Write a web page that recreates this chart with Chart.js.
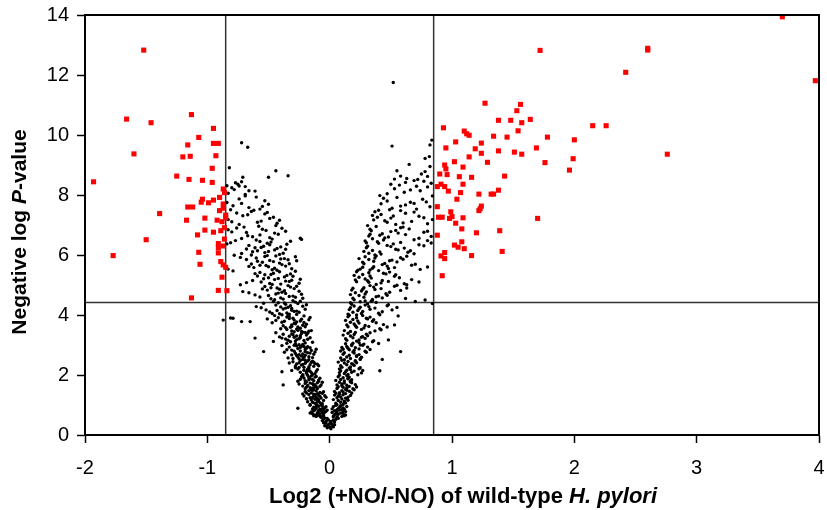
<!DOCTYPE html>
<html><head><meta charset="utf-8">
<script src="https://cdn.jsdelivr.net/npm/chart.js@4.4.0/dist/chart.umd.min.js"></script>
<style>html,body{margin:0;padding:0;background:#fff;}</style>
</head><body>
<canvas id="c" width="827" height="510"></canvas>
<script>
const xTicks = [-2, -1, 0, 1, 2, 3, 4];
const yTicks = [0, 2, 4, 6, 8, 10, 12, 14];
const cutX = [-0.85, 0.85];
const cutY = 4.42;
const xTitleParts = [["Log2 (+NO/-NO) of wild-type ", false], ["H. pylori", true]];
const yTitleParts = [["Negative log ", false], ["P", true], ["-value", false]];

// significant genes (red)
const sigLeft = [[-1.66,10.53],[-1.46,10.41],[-1.13,10.68],[-0.95,10.22],[-1.07,9.92],[-1.16,9.67],[-0.95,9.72],[-0.91,9.72],[-1.6,9.37],[-1.2,9.27],[-1.14,9.29],[-0.93,9.31],[-0.96,8.89],[-1.25,8.63],[-1.93,8.44],[-1.15,8.52],[-1.04,8.49],[-0.96,8.42],[-0.87,8.2],[-0.86,8.08],[-0.9,7.92],[-0.95,7.83],[-1.04,7.86],[-1.05,7.76],[-0.99,7.74],[-0.87,7.7],[-1.16,7.6],[-1.12,7.6],[-0.87,7.56],[-0.9,7.48],[-1.39,7.38],[-0.85,7.33],[-0.85,7.24],[-1.02,7.23],[-1.17,7.16],[-0.92,7.16],[-0.88,7.11],[-0.86,6.91],[-1.02,6.83],[-0.89,6.81],[-0.95,6.76],[-1.08,6.67],[-0.86,6.53],[-1.5,6.51],[-0.91,6.38],[-0.87,6.3],[-0.91,6.24],[-1.77,5.98],[-1.07,6.09],[-0.91,6.07],[-1.06,5.69],[-0.89,5.78],[-0.87,5.67],[-0.85,5.59],[-0.88,5.26],[-0.91,4.82],[-0.84,4.81],[-1.13,4.57],[-1.52,12.83]];
const sigRight = [[3.70,13.94],[1.72,12.82],[2.60,12.89],[2.60,12.83],[2.42,12.09],[3.97,11.81],[1.27,11.06],[1.56,11.02],[1.53,10.81],[1.64,10.52],[1.38,10.49],[1.48,10.49],[1.57,10.41],[2.15,10.31],[2.26,10.31],[0.93,10.24],[1.54,10.14],[1.10,10.13],[1.12,10.04],[1.14,9.99],[1.34,9.96],[1.45,9.93],[1.78,9.93],[2.00,9.84],[1.03,9.77],[1.24,9.73],[0.95,9.57],[1.19,9.54],[1.69,9.57],[1.38,9.47],[1.51,9.43],[1.24,9.39],[1.57,9.36],[2.76,9.36],[1.14,9.27],[1.99,9.21],[1.02,9.11],[1.29,9.09],[1.76,9.08],[0.94,9.0],[1.09,8.93],[0.95,8.87],[1.96,8.83],[0.90,8.7],[0.96,8.68],[1.43,8.63],[1.06,8.61],[1.16,8.59],[1.09,8.36],[0.91,8.36],[0.88,8.28],[0.94,8.28],[0.97,8.13],[1.38,8.16],[1.07,8.08],[1.22,8.03],[1.32,8.03],[1.34,8.03],[1.04,7.86],[1.24,7.63],[1.23,7.54],[1.22,7.48],[0.88,7.61],[0.99,7.44],[0.89,7.26],[0.92,7.26],[0.98,7.22],[1.0,7.28],[1.09,7.24],[1.70,7.22],[1.03,7.06],[1.08,6.87],[1.39,6.81],[1.20,6.74],[0.88,6.66],[1.08,6.44],[1.02,6.33],[1.05,6.26],[1.10,6.21],[1.41,6.12],[0.94,6.08],[0.91,5.97],[1.16,5.98],[0.94,5.88],[0.92,5.31]];

// non-significant genes (black): tip of the V
const nsTip = [[0.01,0.21],[-0.02,0.24],[0.03,0.27],[-0.04,0.31],[0.0,0.26],[0.02,0.36],[-0.01,0.33],[-0.05,0.41],[0.04,0.43],[-0.03,0.39],[0.05,0.52],[-0.06,0.48],[0.01,0.45],[-0.02,0.55],[0.06,0.58],[-0.04,0.57],[0.03,0.49],[0.0,0.38],[-0.07,0.59],[0.02,0.3],[-0.01,0.5],[0.04,0.34],[-0.03,0.46],[0.07,0.56],[-0.05,0.53],[0.01,0.41],[-0.02,0.29],[0.03,0.6]];

// left arm of the V
const nsLeft = [
[-0.06,0.88],[-0.11,0.62],[-0.03,0.79],[-0.14,0.71],[-0.09,0.96],[-0.05,0.65],[-0.12,0.84],[-0.08,0.69],[-0.16,0.99],[-0.04,0.91],[-0.1,0.74],[-0.13,0.93],[-0.07,0.61],[-0.02,0.83],[-0.15,0.77],[-0.09,0.72],[-0.06,0.97],[-0.11,0.89],[-0.04,0.76],[-0.13,0.64],[-0.08,0.86],[-0.1,0.98],[-0.05,0.7],[-0.14,0.87],[-0.07,0.8],[-0.12,0.67],[-0.03,0.94],[-0.09,0.82],[-0.16,0.73],[-0.06,0.75],[-0.11,0.95],[-0.08,0.63],[-0.13,0.81],[-0.05,0.85],[-0.1,0.66],
[-0.11,1.27],[-0.06,1.04],[-0.17,1.35],[-0.09,1.12],[-0.14,1.49],[-0.04,1.31],[-0.19,1.21],[-0.12,1.06],[-0.08,1.42],[-0.15,1.17],[-0.1,1.38],[-0.07,1.23],[-0.2,1.45],[-0.13,1.29],[-0.05,1.15],[-0.16,1.02],[-0.11,1.47],[-0.09,1.33],[-0.18,1.11],[-0.14,1.25],[-0.06,1.39],[-0.12,1.19],[-0.21,1.3],[-0.08,1.08],[-0.15,1.41],[-0.1,1.14],[-0.03,1.26],[-0.17,1.48],[-0.13,1.36],[-0.07,1.01],[-0.19,1.4],[-0.1,1.22],[-0.14,1.09],[-0.05,1.44],[-0.12,1.34],[-0.16,1.24],[-0.09,1.18],[-0.22,1.37],[-0.11,1.05],[-0.08,1.29],
[-0.14,1.71],[-0.2,1.54],[-0.09,1.83],[-0.17,1.92],[-0.12,1.6],[-0.24,1.86],[-0.07,1.67],[-0.15,1.52],[-0.19,1.77],[-0.11,1.95],[-0.22,1.63],[-0.13,1.81],[-0.16,1.58],[-0.08,1.89],[-0.18,1.99],[-0.1,1.74],[-0.26,1.79],[-0.14,1.56],[-0.21,1.9],[-0.12,1.68],[-0.17,1.84],[-0.06,1.76],[-0.2,1.72],[-0.15,1.97],[-0.11,1.61],[-0.23,1.94],[-0.13,1.51],[-0.18,1.65],[-0.09,1.79],[-0.16,1.88],[-0.25,1.7],[-0.12,1.93],[-0.19,1.59],[-0.14,1.85],[-0.1,1.55],[-0.22,1.98],[-0.16,1.73],[-0.08,1.62],[-0.2,1.81],[-0.13,1.66],
[-0.19,2.06],[-0.13,2.29],[-0.25,2.41],[-0.16,2.13],[-0.22,2.35],[-0.1,2.18],[-0.28,2.24],[-0.18,2.47],[-0.14,2.02],[-0.21,2.16],[-0.3,2.44],[-0.12,2.38],[-0.24,2.09],[-0.17,2.27],[-0.2,2.49],[-0.09,2.31],[-0.26,2.2],[-0.15,2.42],[-0.19,2.11],[-0.23,2.33],[-0.12,2.04],[-0.27,2.37],[-0.17,2.22],[-0.14,2.46],[-0.21,2.26],[-0.31,2.15],[-0.16,2.34],[-0.11,2.12],[-0.24,2.48],[-0.18,2.19],[-0.22,2.01],[-0.13,2.43],[-0.28,2.3],[-0.2,2.39],[-0.15,2.08],[-0.25,2.25],[-0.19,2.45],[-0.1,2.36],[-0.33,2.4],[-0.17,2.14],
[-0.23,2.63],[-0.16,2.91],[-0.3,2.55],[-0.2,2.78],[-0.27,2.97],[-0.13,2.69],[-0.35,2.84],[-0.22,2.52],[-0.18,2.74],[-0.26,2.88],[-0.14,2.58],[-0.31,2.67],[-0.21,2.95],[-0.24,2.8],[-0.17,2.61],[-0.28,2.72],[-0.11,2.86],[-0.33,2.93],[-0.2,2.66],[-0.25,2.54],[-0.15,2.82],[-0.29,2.99],[-0.22,2.7],[-0.19,2.89],[-0.37,2.76],[-0.26,2.6],[-0.12,2.77],[-0.23,2.96],[-0.31,2.83],[-0.17,2.51],[-0.27,2.65],[-0.2,2.85],[-0.34,2.57],[-0.24,2.92],[-0.16,2.73],[-0.29,2.79],[-0.21,2.59],[-0.39,2.98],[-0.25,2.68],[-0.18,2.94],
[-0.27,3.18],[-0.2,3.42],[-0.35,3.06],[-0.24,3.31],[-0.16,3.24],[-0.31,3.47],[-0.22,3.02],[-0.38,3.36],[-0.28,3.13],[-0.18,3.39],[-0.25,3.21],[-0.33,3.29],[-0.14,3.09],[-0.29,3.44],[-0.21,3.15],[-0.41,3.27],[-0.26,3.49],[-0.19,3.33],[-0.32,3.11],[-0.23,3.38],[-0.36,3.2],[-0.17,3.46],[-0.28,3.04],[-0.24,3.25],[-0.44,3.41],[-0.3,3.34],[-0.2,3.07],[-0.27,3.3],[-0.15,3.48],[-0.34,3.16],[-0.22,3.43],[-0.39,3.23],[-0.25,3.01],[-0.31,3.37],[-0.18,3.19],[-0.29,3.26],[-0.23,3.45],[-0.46,3.12],
[-0.31,3.62],[-0.23,3.86],[-0.4,3.54],[-0.27,3.77],[-0.19,3.69],[-0.35,3.93],[-0.26,3.51],[-0.44,3.82],[-0.32,3.59],[-0.21,3.97],[-0.29,3.72],[-0.38,3.64],[-0.17,3.84],[-0.34,3.99],[-0.24,3.56],[-0.47,3.74],[-0.3,3.89],[-0.22,3.66],[-0.37,3.79],[-0.27,3.53],[-0.42,3.91],[-0.2,3.61],[-0.33,3.95],[-0.28,3.71],[-0.51,3.87],[-0.36,3.58],[-0.24,3.8],[-0.31,3.67],[-0.16,3.92],[-0.39,3.76],[-0.26,3.6],[-0.45,3.98],[-0.29,3.83],[-0.35,3.52],[-0.21,3.75],[-0.33,3.88],
[-0.36,4.36],[-0.27,4.13],[-0.46,4.45],[-0.31,4.22],[-0.22,4.29],[-0.41,4.04],[-0.3,4.48],[-0.52,4.17],[-0.37,4.4],[-0.25,4.09],[-0.34,4.26],[-0.44,4.33],[-0.2,4.19],[-0.39,4.01],[-0.28,4.43],[-0.56,4.24],[-0.35,4.07],[-0.26,4.38],[-0.43,4.15],[-0.32,4.31],[-0.49,4.1],[-0.24,4.46],[-0.38,4.2],[-0.33,4.03],[-0.6,4.28],[-0.42,4.41],[-0.29,4.12],[-0.36,4.23],[-0.19,4.34],[-0.47,4.05],[-0.31,4.16],[-0.54,4.39],[-0.4,4.27],[-0.27,4.02],
[-0.87,3.83],[-0.79,3.89],[-0.81,3.9],[-0.72,3.78],[-0.65,3.78],[-0.61,3.23],[-0.54,2.78],[-0.39,2.11],[-0.38,1.67],[-0.26,0.89],
[-0.41,4.86],[-0.3,4.63],[-0.53,4.95],[-0.36,4.72],[-0.25,4.79],[-0.48,4.54],[-0.34,4.98],[-0.61,4.67],[-0.43,4.9],[-0.28,4.59],[-0.39,4.76],[-0.51,4.83],[-0.23,4.69],[-0.45,4.51],[-0.32,4.93],[-0.66,4.74],[-0.4,4.57],[-0.29,4.88],[-0.5,4.65],[-0.37,4.81],[-0.57,4.6],[-0.27,4.96],[-0.44,4.7],[-0.38,4.53],[-0.71,4.78],[-0.48,4.91],[-0.33,4.62],[-0.42,4.73],[-0.22,4.56],[-0.55,4.87],
[-0.46,5.39],[-0.33,5.12],[-0.59,5.3],[-0.4,5.03],[-0.28,5.46],[-0.54,5.21],[-0.37,5.27],[-0.68,5.08],[-0.48,5.35],[-0.31,5.16],[-0.43,5.49],[-0.57,5.42],[-0.25,5.06],[-0.5,5.24],[-0.35,5.32],[-0.73,5.01],[-0.45,5.18],[-0.32,5.37],[-0.56,5.1],[-0.41,5.44],[-0.63,5.15],[-0.3,5.29],[-0.49,5.05],[-0.42,5.22],[-0.79,5.47],[-0.53,5.34],[-0.36,5.13],[-0.47,5.02],[-0.24,5.19],[-0.61,5.38],
[-0.5,5.61],[-0.37,5.88],[-0.64,5.7],[-0.44,5.97],[-0.31,5.54],[-0.59,5.79],[-0.41,5.73],[-0.73,5.92],[-0.52,5.65],[-0.34,5.84],[-0.47,5.51],[-0.62,5.58],[-0.28,5.94],[-0.55,5.76],[-0.39,5.68],[-0.78,5.99],[-0.49,5.82],[-0.36,5.63],[-0.6,5.9],[-0.45,5.56],[-0.68,5.85],[-0.33,5.71],[-0.53,5.95],[-0.46,5.78],[-0.83,5.53],[-0.57,5.66],[-0.4,5.87],[-0.51,5.98],[-0.27,5.81],[-0.66,5.62],
[-0.54,6.29],[-0.41,6.02],[-0.68,6.2],[-0.48,6.43],[-0.35,6.36],[-0.63,6.11],[-0.45,6.17],[-0.77,6.48],[-0.56,6.25],[-0.38,6.06],[-0.51,6.39],[-0.66,6.32],[-0.32,6.46],[-0.59,6.14],[-0.43,6.22],[-0.81,6.41],[-0.53,6.08],[-0.4,6.27],[-0.64,6.0],[-0.49,6.34],[-0.72,6.05],[-0.36,6.19],[-0.57,6.45],[-0.5,6.12],[-0.84,6.37],[-0.61,6.24],[-0.23,6.52],[-0.24,6.56],
[-0.58,6.96],[-0.45,6.73],[-0.72,6.55],[-0.52,6.82],[-0.39,6.89],[-0.67,6.64],[-0.49,6.58],[-0.8,6.77],[-0.6,6.5],[-0.42,6.69],[-0.55,6.86],[-0.7,6.93],[-0.36,6.79],[-0.63,6.61],[-0.47,6.53],[-0.83,6.84],[-0.57,6.67],[-0.44,6.98],[-0.68,6.75],[-0.76,6.9],
[-0.62,7.49],[-0.49,7.22],[-0.76,7.4],[-0.56,7.13],[-0.43,7.06],[-0.71,7.31],[-0.53,7.37],[-0.83,7.18],[-0.64,7.45],[-0.46,7.26],[-0.59,7.09],[-0.74,7.02],[-0.41,7.16],[-0.67,7.34],[-0.51,7.42],[-0.8,7.11],
[-0.66,7.58],[-0.53,7.81],[-0.79,7.64],[-0.6,7.93],[-0.5,7.69],[-0.74,7.87],[-0.57,7.53],[-0.84,7.75],[-0.69,7.97],[-0.55,7.62],[-0.81,7.51],[-0.72,7.72],
[-0.83,8.06],[-0.61,8.13],[-0.78,8.18],[-0.69,8.02],[-0.84,8.31],[-0.75,8.36],[-0.8,8.24],[-0.66,8.14],[-0.72,8.44],
[-0.82,8.91],[-0.71,8.59],[-0.5,8.59],[-0.44,8.81],[-0.34,8.64],[-0.72,9.74],[-0.67,9.59],[-0.77,8.41],[-0.74,8.3],[-0.69,8.28]
];

// right arm of the V
const nsRight = [
[0.07,0.88],[0.03,0.63],[0.11,0.79],[0.05,0.71],[0.09,0.96],[0.13,0.67],[0.06,0.84],[0.02,0.75],[0.1,0.62],[0.08,0.92],[0.12,0.86],[0.04,0.81],[0.07,0.69],[0.14,0.95],[0.05,0.99],[0.09,0.73],[0.11,0.9],[0.03,0.94],[0.06,0.77],[0.12,0.64],[0.08,0.83],[0.04,0.68],[0.1,0.85],[0.13,0.78],[0.06,0.61],[0.09,0.98],[0.02,0.87],[0.11,0.72],
[0.09,1.27],[0.05,1.06],[0.13,1.38],[0.07,1.15],[0.16,1.46],[0.11,1.02],[0.04,1.33],[0.14,1.21],[0.08,1.41],[0.12,1.11],[0.06,1.24],[0.17,1.32],[0.1,1.48],[0.03,1.18],[0.13,1.07],[0.08,1.36],[0.15,1.26],[0.11,1.43],[0.06,1.01],[0.1,1.2],[0.14,1.49],[0.05,1.39],[0.12,1.13],[0.18,1.4],[0.07,1.3],[0.09,1.09],[0.15,1.16],[0.04,1.45],[0.11,1.34],[0.13,1.23],
[0.12,1.73],[0.07,1.94],[0.16,1.62],[0.09,1.85],[0.19,1.54],[0.14,1.98],[0.06,1.67],[0.17,1.79],[0.11,1.59],[0.15,1.89],[0.08,1.76],[0.21,1.68],[0.13,1.52],[0.05,1.82],[0.16,1.93],[0.1,1.64],[0.18,1.74],[0.14,1.57],[0.08,1.99],[0.12,1.8],[0.2,1.51],[0.07,1.61],[0.15,1.87],[0.22,1.6],[0.1,1.7],[0.11,1.91],[0.18,1.84],[0.06,1.55],[0.14,1.66],[0.17,1.77],
[0.15,2.02],[0.09,2.31],[0.2,2.13],[0.12,2.4],[0.24,2.21],[0.17,2.27],[0.08,2.08],[0.21,2.46],[0.14,2.16],[0.19,2.36],[0.1,2.49],[0.26,2.07],[0.16,2.23],[0.07,2.43],[0.2,2.32],[0.13,2.11],[0.23,2.01],[0.17,2.18],[0.1,2.26],[0.15,2.45],[0.25,2.24],[0.09,2.14],[0.18,2.38],[0.27,2.15],[0.12,2.05],[0.14,2.34],[0.22,2.41],[0.08,2.2],[0.18,2.09],[0.21,2.48],
[0.18,2.98],[0.11,2.69],[0.24,2.87],[0.14,2.6],[0.29,2.79],[0.2,2.73],[0.1,2.92],[0.25,2.54],[0.16,2.84],[0.22,2.64],[0.12,2.51],[0.31,2.93],[0.19,2.77],[0.09,2.57],[0.24,2.68],[0.15,2.89],[0.27,2.99],[0.2,2.82],[0.12,2.74],[0.17,2.55],[0.3,2.76],[0.11,2.86],[0.22,2.62],[0.33,2.85],[0.14,2.95],[0.16,2.66],[0.26,2.59],[0.09,2.8],[0.21,2.91],[0.25,2.52],
[0.21,3.42],[0.13,3.21],[0.28,3.03],[0.17,3.3],[0.35,3.11],[0.24,3.17],[0.12,3.48],[0.3,3.36],[0.19,3.06],[0.26,3.26],[0.15,3.39],[0.37,3.47],[0.22,3.13],[0.11,3.33],[0.29,3.22],[0.18,3.01],[0.33,3.41],[0.24,3.08],[0.14,3.16],[0.2,3.35],[0.36,3.14],[0.13,3.04],[0.27,3.28],[0.4,3.05],[0.17,3.45],[0.19,3.24],[0.31,3.31],[0.25,3.0],
[0.24,3.73],[0.15,3.94],[0.32,3.62],[0.19,3.85],[0.41,3.54],[0.27,3.98],[0.14,3.67],[0.35,3.79],[0.22,3.59],[0.3,3.89],[0.17,3.76],[0.44,3.68],[0.26,3.52],[0.13,3.82],[0.33,3.93],[0.21,3.64],[0.38,3.74],[0.28,3.57],[0.16,3.99],[0.23,3.8],[0.42,3.51],[0.15,3.61],[0.31,3.87],[0.47,3.6],[0.2,3.7],[0.22,3.91],[0.36,3.84],[0.29,3.65],
[0.58,2.78],[0.48,3.17],[0.56,3.97],[0.53,3.67],[0.41,2.14],[0.43,2.52],
[0.27,4.12],[0.17,4.41],[0.37,4.23],[0.22,4.0],[0.47,4.31],[0.31,4.37],[0.16,4.18],[0.4,4.06],[0.25,4.26],[0.34,4.46],[0.19,4.09],[0.51,4.17],[0.29,4.33],[0.15,4.03],[0.38,4.42],[0.24,4.21],[0.43,4.11],[0.32,4.28],[0.18,4.36],[0.26,4.05],[0.48,4.34],[0.17,4.24],[0.35,4.48],[0.55,4.25],[0.23,4.15],[0.25,4.44],[0.41,4.01],[0.2,4.3],[0.33,4.19],[0.29,4.47],
[0.84,4.38],[0.78,4.5],[0.7,4.45],[0.62,4.55],
[0.3,4.77],[0.19,4.56],[0.42,4.88],[0.24,4.65],[0.53,4.96],[0.35,4.52],[0.18,4.83],[0.46,4.71],[0.28,4.91],[0.38,4.61],[0.21,4.74],[0.58,4.82],[0.33,4.98],[0.17,4.68],[0.43,4.57],[0.27,4.86],[0.49,4.76],[0.36,4.93],[0.2,4.51],[0.29,4.7],[0.55,4.99],[0.19,4.89],[0.4,4.63],[0.63,4.9],[0.26,4.8],[0.28,4.59],[0.47,4.66],[0.37,4.85],
[0.34,5.23],[0.22,5.44],[0.48,5.12],[0.27,5.35],[0.61,5.04],[0.4,5.48],[0.21,5.17],[0.53,5.29],[0.32,5.09],[0.44,5.39],[0.24,5.26],[0.67,5.18],[0.38,5.02],[0.2,5.32],[0.49,5.43],[0.31,5.14],[0.57,5.24],[0.42,5.07],[0.23,5.49],[0.33,5.3],[0.63,5.01],[0.22,5.11],[0.46,5.37],[0.73,5.1],[0.29,5.2],[0.32,5.41],[0.54,5.34],[0.43,5.15],
[0.38,5.97],[0.27,5.76],[0.53,5.58],[0.32,5.85],[0.67,5.66],[0.45,5.72],[0.25,5.53],[0.58,5.91],[0.36,5.61],[0.49,5.81],[0.29,5.94],[0.74,5.52],[0.43,5.68],[0.24,5.88],[0.55,5.77],[0.35,5.56],[0.63,5.96],[0.47,5.63],[0.28,5.71],[0.37,5.9],[0.7,5.69],[0.27,5.59],[0.51,5.83],[0.8,5.6],[0.33,5.5],[0.36,5.79],[0.6,5.86],[0.48,5.55],
[0.42,6.03],[0.3,6.24],[0.58,6.42],[0.35,6.15],[0.73,6.34],[0.5,6.28],[0.29,6.47],[0.64,6.09],[0.4,6.39],[0.54,6.19],[0.32,6.06],[0.8,6.48],[0.47,6.32],[0.28,6.12],[0.61,6.23],[0.39,6.44],[0.69,6.04],[0.52,6.37],[0.31,6.29],[0.41,6.1],[0.77,6.31],[0.3,6.41],[0.56,6.17],[0.83,6.4],[0.37,6.0],[0.66,6.14],
[0.45,6.57],[0.33,6.86],[0.62,6.68],[0.38,6.95],[0.77,6.76],[0.54,6.82],[0.32,6.63],[0.69,6.51],[0.43,6.71],[0.58,6.91],[0.35,6.54],[0.83,6.62],[0.5,6.78],[0.31,6.98],[0.65,6.87],[0.41,6.66],[0.73,6.56],[0.56,6.73],[0.34,6.81],[0.44,6.5],[0.8,6.79],[0.33,6.69],[0.6,6.93],[0.48,6.6],
[0.5,7.23],[0.37,7.44],[0.67,7.12],[0.42,7.35],[0.8,7.04],[0.58,7.48],[0.36,7.17],[0.73,7.29],[0.47,7.09],[0.62,7.39],[0.39,7.26],[0.84,7.18],[0.54,7.02],[0.35,7.32],[0.69,7.43],[0.45,7.14],[0.77,7.24],[0.6,7.07],[0.4,7.49],[0.52,7.3],
[0.55,7.92],[0.42,7.71],[0.71,7.53],[0.47,7.8],[0.82,7.61],[0.62,7.67],[0.41,7.98],[0.76,7.86],[0.51,7.56],[0.66,7.76],[0.44,7.89],[0.84,7.97],[0.58,7.63],[0.69,7.72],[0.49,7.51],[0.79,7.77],
[0.47,8.04],[0.61,8.09],[0.74,8.14],[0.53,8.21],[0.66,8.17],[0.8,8.27],[0.57,8.33],[0.71,8.29],[0.83,8.39],[0.62,8.42],[0.77,8.46],[0.5,8.36],[0.69,8.48],
[0.51,9.63],[0.835,9.83],[0.82,9.67],[0.78,9.22],[0.815,9.28],[0.65,9.02],[0.55,8.81],[0.78,8.78],[0.8,8.62],[0.58,8.63],[0.53,8.53],[0.63,8.55],[0.72,8.52],[0.82,8.95],[0.75,8.7],
[0.52,11.75]
];

const FONT = '"Liberation Sans", Arial, sans-serif';
const toXY = a => a.map(p => ({x: p[0], y: p[1]}));

const titlePlugin = {
  id: 'titles',
  afterDraw(chart) {
    const ctx = chart.ctx, ca = chart.chartArea;
    ctx.save();
    ctx.strokeStyle = '#000';
    ctx.lineWidth = 2;
    ctx.strokeRect(ca.left, ca.top, ca.right - ca.left, ca.bottom - ca.top);
    ctx.fillStyle = '#000';
    ctx.textBaseline = 'alphabetic';
    ctx.textAlign = 'left';
    const fontOf = (it, sz) => (it ? 'italic ' : '') + 'bold ' + sz + 'px ' + FONT;
    let w = 0;
    xTitleParts.forEach(p => { ctx.font = fontOf(p[1], 22); w += ctx.measureText(p[0]).width; });
    let x0 = 463 - w / 2;
    xTitleParts.forEach(p => { ctx.font = fontOf(p[1], 22); ctx.fillText(p[0], x0, 503); x0 += ctx.measureText(p[0]).width; });
    w = 0;
    yTitleParts.forEach(p => { ctx.font = fontOf(p[1], 21); w += ctx.measureText(p[0]).width; });
    ctx.translate(26, 232);
    ctx.rotate(-Math.PI / 2);
    let u = -w / 2;
    yTitleParts.forEach(p => { ctx.font = fontOf(p[1], 21); ctx.fillText(p[0], u, 0); u += ctx.measureText(p[0]).width; });
    ctx.restore();
  }
};

new Chart(document.getElementById('c'), {
  type: 'scatter',
  data: {
    datasets: [
      {label: 'sig', data: toXY(sigLeft.concat(sigRight)), pointStyle: 'rect', pointRadius: 3.6, backgroundColor: '#ff0000', borderWidth: 0, order: 0},
      {label: 'ns', data: toXY(nsTip.concat(nsLeft, nsRight)), pointStyle: 'circle', pointRadius: 1.7, backgroundColor: '#000', borderWidth: 0, order: 1},
      {type: 'line', label: 'l1', data: [{x: cutX[0], y: yTicks[0]}, {x: cutX[0], y: yTicks[yTicks.length - 1]}], borderColor: '#333', borderWidth: 1.5, pointRadius: 0, order: 2},
      {type: 'line', label: 'l2', data: [{x: cutX[1], y: yTicks[0]}, {x: cutX[1], y: yTicks[yTicks.length - 1]}], borderColor: '#333', borderWidth: 1.5, pointRadius: 0, order: 2},
      {type: 'line', label: 'l3', data: [{x: xTicks[0], y: cutY}, {x: xTicks[xTicks.length - 1], y: cutY}], borderColor: '#333', borderWidth: 1.5, pointRadius: 0, order: 2}
    ]
  },
  options: {
    responsive: false,
    animation: false,
    devicePixelRatio: 1,
    layout: {padding: {top: 15, right: 8, left: 0, bottom: 0}},
    plugins: {legend: {display: false}, tooltip: {enabled: false}},
    scales: {
      x: {
        type: 'linear', min: xTicks[0], max: xTicks[xTicks.length - 1],
        afterBuildTicks: s => { s.ticks = xTicks.map(v => ({value: v})); },
        afterFit: s => { s.height = 75; },
        grid: {drawOnChartArea: false, drawTicks: true, tickLength: 8, tickColor: '#000', tickWidth: 1.5},
        border: {display: true, color: '#000', width: 2},
        ticks: {color: '#000', font: {family: FONT, size: 20, lineHeight: 2.5}, padding: 0, maxRotation: 0}
      },
      y: {
        type: 'linear', min: yTicks[0], max: yTicks[yTicks.length - 1],
        afterBuildTicks: s => { s.ticks = yTicks.map(v => ({value: v})); },
        afterFit: s => { s.width = 85; },
        grid: {drawOnChartArea: false, drawTicks: true, tickLength: 8, tickColor: '#000', tickWidth: 1.5},
        border: {display: true, color: '#000', width: 2},
        ticks: {color: '#000', font: {family: FONT, size: 20, lineHeight: 0.5}, padding: 8}
      }
    }
  },
  plugins: [titlePlugin]
});
</script>
</body></html>
